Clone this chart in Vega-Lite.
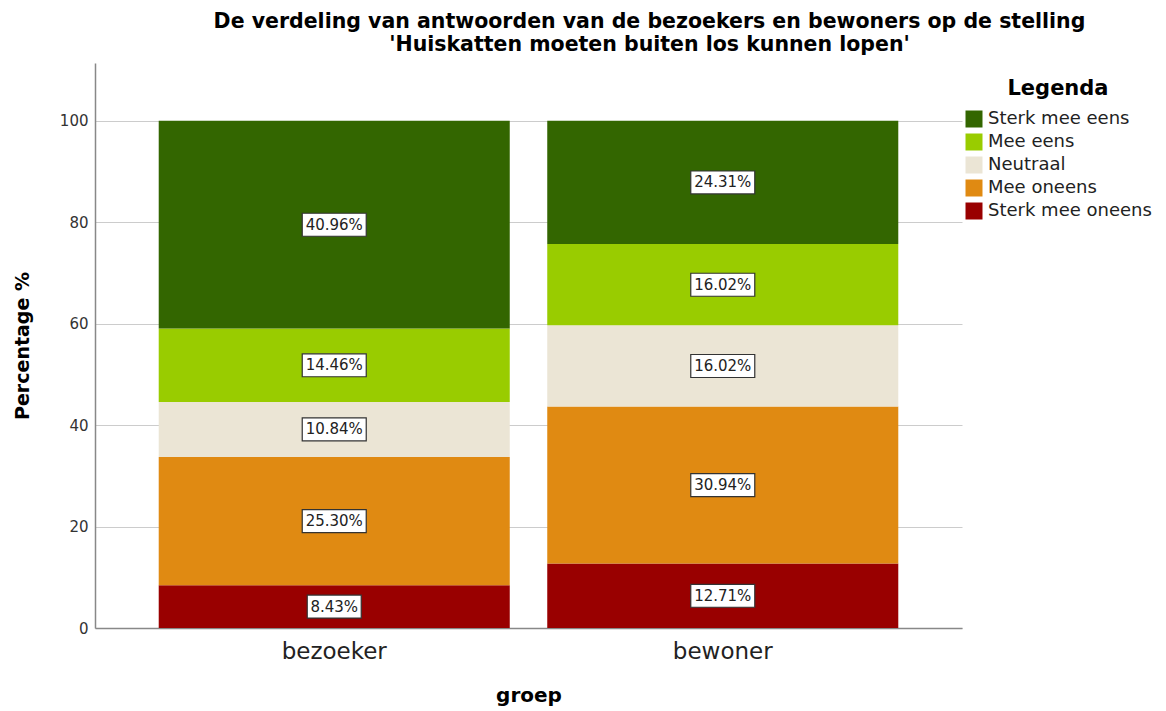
{
  "$schema": "https://vega.github.io/schema/vega-lite/v6.json",
  "width": 867,
  "height": 565,
  "autosize": {"type": "none"},
  "padding": {"left": 95, "top": 63, "right": 204, "bottom": 83},
  "background": "white",
  "config": {"view": {"stroke": null}},
  "title": {
    "text": ["De verdeling van antwoorden van de bezoekers en bewoners op de stelling", "'Huiskatten moeten buiten los kunnen lopen'"],
    "font": "DejaVu Sans",
    "fontSize": 20.5,
    "fontWeight": "bold",
    "color": "#000000",
    "lineHeight": 23,
    "anchor": "middle",
    "dx": 121,
    "offset": 8
  },
  "data": {
    "values": [
      {"groep": "bezoeker", "antwoord": "Sterk mee oneens", "rank": 1, "value": 8.43, "label": "8.43%"},
      {"groep": "bezoeker", "antwoord": "Mee oneens", "rank": 2, "value": 25.30, "label": "25.30%"},
      {"groep": "bezoeker", "antwoord": "Neutraal", "rank": 3, "value": 10.84, "label": "10.84%"},
      {"groep": "bezoeker", "antwoord": "Mee eens", "rank": 4, "value": 14.46, "label": "14.46%"},
      {"groep": "bezoeker", "antwoord": "Sterk mee eens", "rank": 5, "value": 40.96, "label": "40.96%"},
      {"groep": "bewoner", "antwoord": "Sterk mee oneens", "rank": 1, "value": 12.71, "label": "12.71%"},
      {"groep": "bewoner", "antwoord": "Mee oneens", "rank": 2, "value": 30.94, "label": "30.94%"},
      {"groep": "bewoner", "antwoord": "Neutraal", "rank": 3, "value": 16.02, "label": "16.02%"},
      {"groep": "bewoner", "antwoord": "Mee eens", "rank": 4, "value": 16.02, "label": "16.02%"},
      {"groep": "bewoner", "antwoord": "Sterk mee eens", "rank": 5, "value": 24.31, "label": "24.31%"}
    ]
  },
  "transform": [
    {"stack": "value", "groupby": ["groep"], "sort": [{"field": "rank", "order": "ascending"}], "as": ["y0", "y1"]},
    {"calculate": "(datum.y0 + datum.y1) / 2", "as": "mid"}
  ],
  "encoding": {
    "x": {
      "field": "groep",
      "type": "nominal",
      "sort": ["bezoeker", "bewoner"],
      "scale": {"type": "band", "paddingInner": 0.0965, "paddingOuter": 0.164},
      "axis": {
        "domainColor": "#888888",
        "domainWidth": 1.5,
        "ticks": false,
        "grid": false,
        "labelAngle": 0,
        "labelFont": "DejaVu Sans",
        "labelFontSize": 23,
        "labelColor": "#222222",
        "labelPadding": 12,
        "title": "groep",
        "titleFont": "DejaVu Sans",
        "titleFontSize": 20,
        "titleFontWeight": "bold",
        "titleColor": "#000000",
        "titlePadding": 22
      }
    }
  },
  "layer": [
    {
      "mark": {"type": "bar"},
      "encoding": {
        "y": {
          "field": "y0",
          "type": "quantitative",
          "scale": {"domain": [0, 111.4], "nice": false, "zero": true},
          "axis": {
            "values": [0, 20, 40, 60, 80, 100],
            "domainColor": "#888888",
            "domainWidth": 1.5,
            "ticks": false,
            "grid": true,
            "gridColor": "#cccccc",
            "labelFont": "DejaVu Sans",
            "labelFontSize": 15,
            "labelColor": "#333333",
            "labelPadding": 7,
            "title": "Percentage %",
            "titleFont": "DejaVu Sans",
            "titleFontSize": 19,
            "titleFontWeight": "bold",
            "titleColor": "#000000",
            "titleX": -73,
            "titleY": 282.5,
            "titleBaseline": "middle",
            "titleAlign": "center"
          }
        },
        "y2": {"field": "y1"},
        "color": {
          "field": "antwoord",
          "type": "nominal",
          "scale": {
            "domain": ["Sterk mee eens", "Mee eens", "Neutraal", "Mee oneens", "Sterk mee oneens"],
            "range": ["#336600", "#99cc00", "#ebe5d5", "#e08a12", "#990000"]
          },
          "legend": {
            "title": "Legenda",
            "orient": "none",
            "legendX": 870,
            "legendY": 15,
            "titleFont": "DejaVu Sans",
            "titleFontSize": 21,
            "titleFontWeight": "bold",
            "titleColor": "#000000",
            "titleAnchor": "middle",
            "titleAlign": "center",
            "titlePadding": 11,
            "labelFont": "DejaVu Sans",
            "labelFontSize": 18,
            "labelLimit": 400,
            "labelColor": "#222222",
            "labelOffset": 5,
            "symbolType": "square",
            "symbolSize": 289,
            "symbolStrokeWidth": 0,
            "symbolOpacity": 1,
            "rowPadding": 5
          }
        }
      }
    },
    {
      "transform": [{"filter": "length(datum.label) >= 6"}],
      "mark": {"type": "point", "shape": "M-1,-0.359H1V0.359H-1Z", "size": 4096, "filled": true, "fill": "white", "stroke": "#333333", "strokeWidth": 1.2, "opacity": 1},
      "encoding": {"y": {"field": "mid", "type": "quantitative"}}
    },
    {
      "transform": [{"filter": "length(datum.label) < 6"}],
      "mark": {"type": "point", "shape": "M-1,-0.426H1V0.426H-1Z", "size": 2916, "filled": true, "fill": "white", "stroke": "#333333", "strokeWidth": 1.2, "opacity": 1},
      "encoding": {"y": {"field": "mid", "type": "quantitative"}}
    },
    {
      "mark": {"type": "text", "font": "DejaVu Sans", "fontSize": 15, "color": "#222222", "baseline": "middle", "align": "center"},
      "encoding": {
        "y": {"field": "mid", "type": "quantitative"},
        "text": {"field": "label"}
      }
    }
  ]
}
